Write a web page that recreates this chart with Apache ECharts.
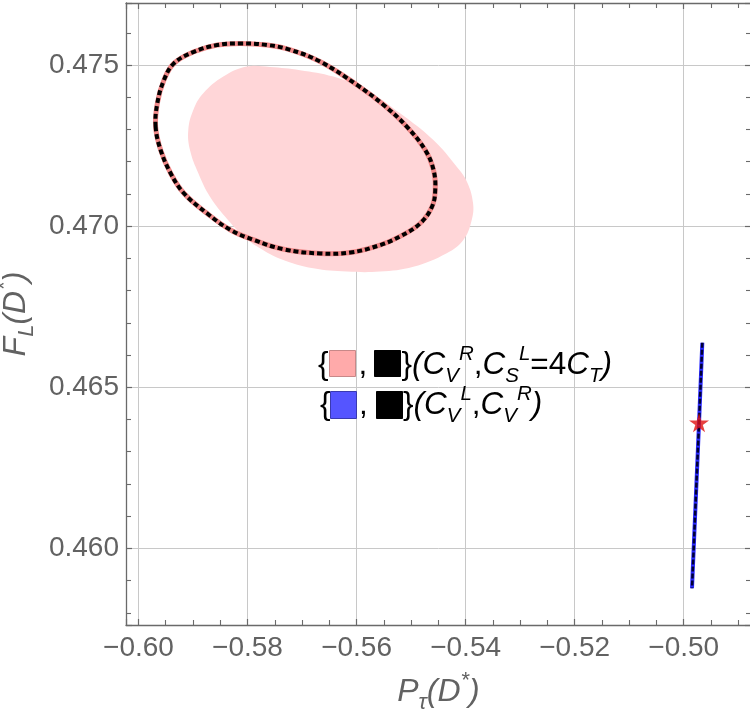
<!DOCTYPE html>
<html>
<head>
<meta charset="utf-8">
<script src="https://cdn.jsdelivr.net/npm/echarts@6/dist/echarts.min.js"></script>
<style>
html,body{margin:0;padding:0;background:#fff;}
#c{width:750px;height:710px;}
</style>
</head>
<body>
<div id="c"></div>
<script>
// ---- data ----
const xRange = [-0.602285, -0.48766];
const yRange = [0.45762, 0.476924];

// pink filled region (C_V^R, C_S^L = 4 C_T)
const fillRegion = [
  [-0.59086,0.47298],[-0.58994,0.47360],[-0.58811,0.47412],[-0.58444,0.47464],
  [-0.58015,0.47495],[-0.57587,0.47494],[-0.57037,0.47484],[-0.56426,0.47464],
  [-0.55814,0.47422],[-0.55203,0.47350],[-0.54592,0.47267],[-0.54163,0.47184],
  [-0.53974,0.47137],[-0.53864,0.47072],[-0.53888,0.47019],[-0.54042,0.46957],
  [-0.54346,0.46916],[-0.54959,0.46874],[-0.55570,0.46859],[-0.56180,0.46859],
  [-0.56793,0.46869],[-0.57404,0.46899],[-0.57716,0.46926],[-0.58015,0.46960],
  [-0.58358,0.47019],[-0.58688,0.47091],[-0.58902,0.47164],[-0.59055,0.47236]
];

// dashed outline contour
const outline = [
  [-0.59685,0.47308],[-0.59654,0.47381],[-0.59533,0.47453],[-0.59350,0.47505],
  [-0.58984,0.47541],[-0.58555,0.47562],[-0.58128,0.47567],[-0.57639,0.47562],
  [-0.57212,0.47547],[-0.56663,0.47510],[-0.55991,0.47438],
  [-0.55504,0.47376],[-0.55075,0.47308],[-0.54740,0.47236],[-0.54588,0.47174],
  [-0.54557,0.47112],[-0.54617,0.47060],[-0.54836,0.47008],[-0.55203,0.46968],
  [-0.55570,0.46941],[-0.56114,0.46918],[-0.56663,0.46915],[-0.57335,0.46928],
  [-0.57885,0.46957],[-0.58311,0.46988],[-0.58738,0.47039],[-0.59167,0.47102],
  [-0.59410,0.47164],[-0.59593,0.47236]
];

// (C_V^L, C_V^R) line
const blueLine = [
  [-0.49659,0.46638],[-0.49719,0.46390],[-0.49817,0.46000],[-0.49848,0.45876]
];

// SM point (star)
const smPoint = [[-0.49719,0.46390]];

const FONT = "'Liberation Sans', Arial, sans-serif";
const GRAY = '#626262';
const AX = '#6a6a6a';

function fmtX(v){ return (v < 0 ? '\u2212' : '') + Math.abs(v).toFixed(2); }
function fmtY(v){ return v.toFixed(3); }

const chart = echarts.init(document.getElementById('c'), null, {renderer:'canvas'});

const axisCommon = {
  type:'value',
  axisLine:{show:true, onZero:false, lineStyle:{color:AX, width:1.3}},
  axisTick:{show:true, inside:true, length:6, lineStyle:{color:AX, width:1.2}},
  minorTick:{show:true, length:5, lineStyle:{color:AX, width:1.1}},
};

const nameRich = {
  i:{fontSize:32, fontStyle:'italic', color:GRAY, fontFamily:FONT, lineHeight:44, verticalAlign:'middle'},
  sub:{fontSize:22, fontStyle:'italic', color:GRAY, fontFamily:FONT, lineHeight:28, verticalAlign:'bottom'},
  sup:{fontSize:22, fontStyle:'italic', color:GRAY, fontFamily:FONT, lineHeight:22, verticalAlign:'top'}
};

const option = {
  animation:false,
  backgroundColor:'#fff',
  grid:{left:126, right:-1, top:3, bottom:85, containLabel:false, outerBoundsMode:'none'},
  xAxis:[
    Object.assign({}, axisCommon, {
      position:'bottom', min:xRange[0], max:xRange[1], splitNumber:5,
      minorTick:Object.assign({}, axisCommon.minorTick, {splitNumber:4}),
      axisLabel:{show:true, margin:9, fontSize:28, color:GRAY, fontFamily:FONT,
        showMinLabel:false, showMaxLabel:false, formatter:fmtX},
      splitLine:{show:true, lineStyle:{color:'#c8c8c8', width:1}},
      name:'{i|P}{sub|\u03c4}{i|(D}{sup|*}{i|)}',
      nameLocation:'middle', nameGap:45,
      nameTextStyle:{rich:nameRich}
    }),
    Object.assign({}, axisCommon, {
      position:'top', min:xRange[0], max:xRange[1], splitNumber:5,
      minorTick:Object.assign({}, axisCommon.minorTick, {splitNumber:4}),
      axisLabel:{show:false}, splitLine:{show:false}
    })
  ],
  yAxis:[
    Object.assign({}, axisCommon, {
      position:'left', min:yRange[0], max:yRange[1], splitNumber:4,
      minorTick:Object.assign({}, axisCommon.minorTick, {splitNumber:5}),
      axisLabel:{show:true, margin:7, fontSize:28, color:GRAY, fontFamily:FONT,
        showMinLabel:false, showMaxLabel:false, formatter:fmtY},
      splitLine:{show:true, lineStyle:{color:'#c8c8c8', width:1}},
      name:'{i|F}{sub|L}{i|(D}{sup|*}{i|)}',
      nameLocation:'middle', nameGap:84,
      nameTextStyle:{rich:nameRich}
    }),
    Object.assign({}, axisCommon, {
      position:'right', min:yRange[0], max:yRange[1], splitNumber:4,
      minorTick:Object.assign({}, axisCommon.minorTick, {splitNumber:5}),
      axisLabel:{show:false}, splitLine:{show:false}
    })
  ],
  series:[
    {
      type:'custom', name:'fill', xAxisIndex:0, yAxisIndex:0, silent:true, z:2,
      data:[fillRegion[0]],
      renderItem:function(params, api){
        const pts = fillRegion.map(p => api.coord(p));
        return {type:'polygon', shape:{points:pts, smooth:0.4}, style:{fill:'#ffd6d8', stroke:null}};
      }
    },
    {
      type:'custom', name:'outline', xAxisIndex:0, yAxisIndex:0, silent:true, z:3,
      data:[outline[0]],
      renderItem:function(params, api){
        const pts = outline.map(p => api.coord(p));
        return {type:'group', children:[
          {type:'polygon', shape:{points:pts, smooth:0.4}, style:{fill:null, stroke:'#f08888', lineWidth:5}},
          {type:'polygon', shape:{points:pts, smooth:0.4}, style:{fill:null, stroke:'#000', lineWidth:4, lineDash:[5,3]}}
        ]};
      }
    },
    {
      type:'line', name:'blue', xAxisIndex:0, yAxisIndex:0, silent:true, z:4,
      data:blueLine, showSymbol:false, symbol:'none',
      lineStyle:{color:'#2a2aff', width:4}
    },
    {
      type:'line', name:'blueDash', xAxisIndex:0, yAxisIndex:0, silent:true, z:5,
      data:blueLine, showSymbol:false, symbol:'none',
      lineStyle:{color:'#000033', width:2.5, type:[5,2]}
    },
    {
      type:'scatter', name:'SM', xAxisIndex:0, yAxisIndex:0, silent:true, z:6,
      data:smPoint,
      symbol:'path://M50,0 L61,35 L98,35 L68,57 L79,91 L50,70 L21,91 L32,57 L2,35 L39,35 Z',
      symbolSize:[20,19],
      itemStyle:{color:'#e01010'}
    }
  ],
  graphic:[]
};

// legend (drawn as graphics)
const L = {fontSize:31.5, lineHeight:42, fontFamily:FONT, color:'#000'};
const legRich = {
  n:{fontSize:31.5, lineHeight:42, fontFamily:FONT, color:'#000', verticalAlign:'middle'},
  i:{fontSize:31.5, lineHeight:42, fontFamily:FONT, color:'#000', fontStyle:'italic', verticalAlign:'middle'},
  sup:{fontSize:20.5, lineHeight:20.5, fontFamily:FONT, color:'#000', fontStyle:'italic', verticalAlign:'top'},
  sub:{fontSize:20.5, lineHeight:34, fontFamily:FONT, color:'#000', fontStyle:'italic', verticalAlign:'bottom'}
};
function plain(txt, x, y){
  return {type:'text', silent:true, z:100, x:x, y:y,
    style:Object.assign({text:txt, verticalAlign:'top', align:'left'}, L)};
}
function richText(txt, x, y){
  return {type:'text', silent:true, z:100, x:x, y:y,
    style:{text:txt, rich:legRich, verticalAlign:'top', align:'left', fontSize:31.5, lineHeight:42, fontFamily:FONT}};
}
function sq(x, y, w, h, fill, stroke){
  return {type:'rect', silent:true, z:100, shape:{x:x, y:y, width:w, height:h},
    style:{fill:fill, stroke:stroke, lineWidth:1}};
}
const T1 = 344, T2 = 384;
option.graphic = [
  plain('{', 318, T1),
  sq(329.5, 350.5, 26, 26, '#ffaaaa', '#c88888'),
  plain(',', 358.5, T1),
  sq(374.5, 350.5, 26, 26, '#000', '#000'),
  richText('{n|\u007d}{i|(C}{sub|V}{sup|R}{n|,}{i|C}{sub|S}{sup|L}{n|=4}{i|C}{sub|T}{i|)}', 401.5, T1),
  plain('{', 320, T2),
  sq(330.5, 391.5, 26, 27, '#5555ff', '#3a3ab0'),
  plain(',', 359, T2),
  sq(376.5, 391.5, 26, 27, '#000', '#000'),
  richText('{n|\u007d}{i|(C}{sub|V}{sup|L}{n|,}{i|C}{sub|V}{sup|R}{i|)}', 403, T2)
];

chart.setOption(option);
</script>
</body>
</html>
